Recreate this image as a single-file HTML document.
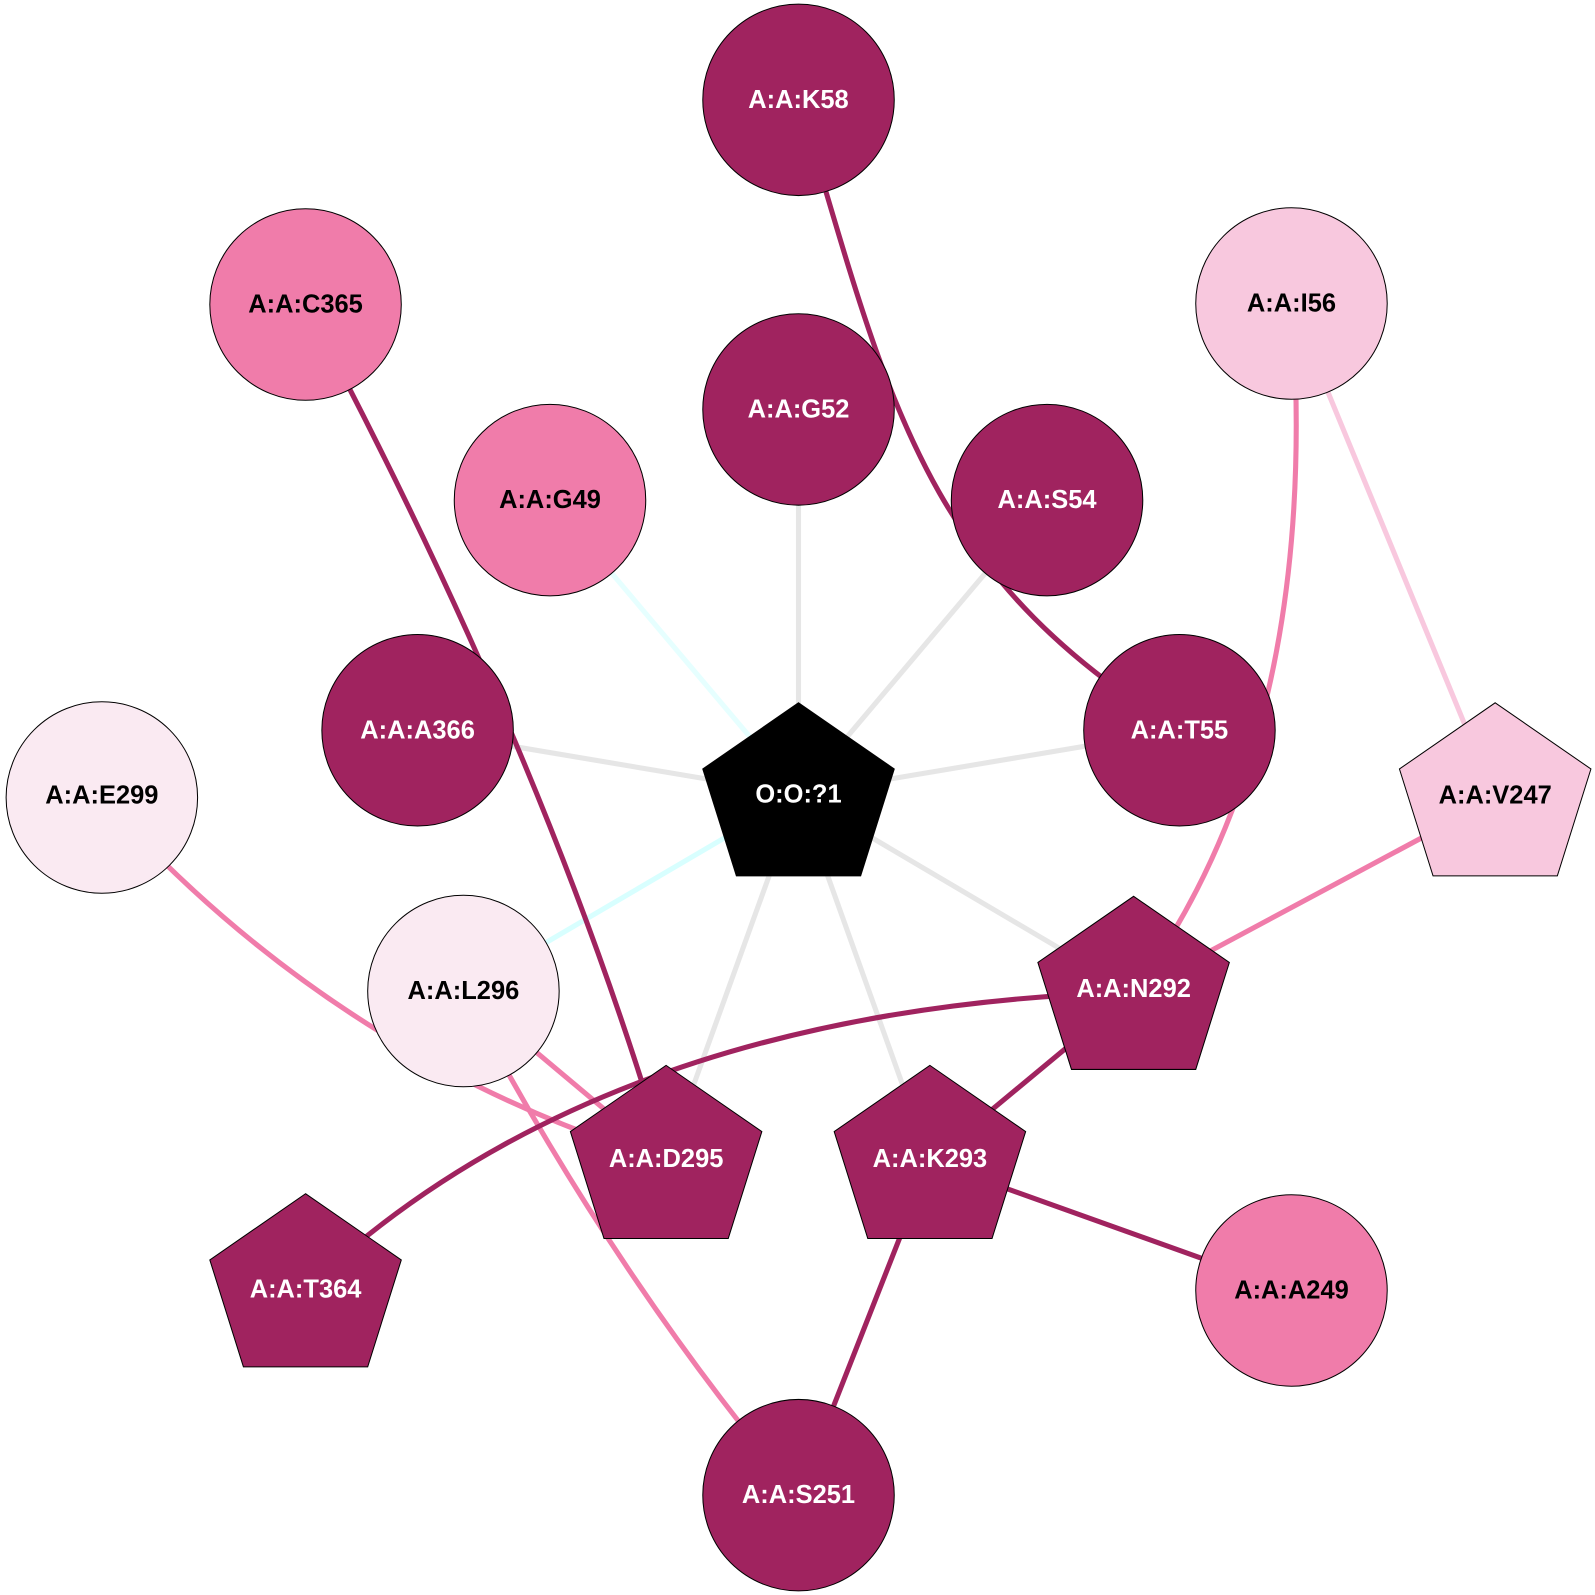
<!DOCTYPE html>
<html><head><meta charset="utf-8"><style>html,body{margin:0;padding:0;background:#fff}svg{display:block}text{font-family:"Liberation Sans",Arial,sans-serif;font-weight:bold;font-size:25px;text-anchor:middle;dominant-baseline:central}</style></head>
<body>
<svg width="1595" height="1595" viewBox="0 0 1566 1566" xmlns="http://www.w3.org/2000/svg">
<defs><polygon id="p" points="0,-94 94,-29 61,76 -61,76 -94,-29"/></defs>
<g fill="none" stroke-width="5">
<path d="M784,402 L784,780" stroke="#e6e6e6"/>
<path d="M1028,491 L784,780" stroke="#e6e6e6"/>
<path d="M410,717 L784,780" stroke="#e6e6e6"/>
<path d="M1158,717 L784,780" stroke="#e6e6e6"/>
<path d="M1113,974 L784,780" stroke="#e6e6e6"/>
<path d="M654,1140 L784,780" stroke="#e6e6e6"/>
<path d="M913,1140 L784,780" stroke="#e6e6e6"/>
<path d="M540,491 L784,780" stroke="#e6ffff"/>
<path d="M455,973 L784,780" stroke="#d8ffff"/>
<path d="M784,98 C870,380 900,560 1158,717" stroke="#a0235f"/>
<path d="M300,299 Q540,750 654,1140" stroke="#a0235f"/>
<path d="M1268,298 Q1300,720 1113,974" stroke="#f07caa"/>
<path d="M1268,298 L1468,784" stroke="#f8c8de"/>
<path d="M1468,784 L1113,974" stroke="#f07caa"/>
<path d="M100,783 Q330,1040 654,1140" stroke="#f07caa"/>
<path d="M455,973 L654,1140" stroke="#f07caa"/>
<path d="M455,973 Q600,1250 784,1468" stroke="#f07caa"/>
<path d="M1113,974 Q590,990 300,1266" stroke="#a0235f"/>
<path d="M1113,974 L913,1140" stroke="#a0235f"/>
<path d="M913,1140 L1268,1267" stroke="#a0235f"/>
<path d="M913,1140 L784,1468" stroke="#a0235f"/>
</g>
<g stroke="#000" stroke-width="1">
<circle cx="784" cy="98" r="94" fill="#a0235f"/>
<circle cx="300" cy="299" r="94" fill="#f07caa"/>
<circle cx="1268" cy="298" r="94" fill="#f8c8de"/>
<circle cx="784" cy="402" r="94" fill="#a0235f"/>
<circle cx="540" cy="491" r="94" fill="#f07caa"/>
<circle cx="1028" cy="491" r="94" fill="#a0235f"/>
<circle cx="410" cy="717" r="94" fill="#a0235f"/>
<circle cx="1158" cy="717" r="94" fill="#a0235f"/>
<circle cx="100" cy="783" r="94" fill="#faeaf2"/>
<circle cx="455" cy="973" r="94" fill="#faeaf2"/>
<circle cx="1268" cy="1267" r="94" fill="#f07caa"/>
<circle cx="784" cy="1468" r="94" fill="#a0235f"/>
<use href="#p" x="784" y="784" fill="#000"/>
<use href="#p" x="1468" y="784" fill="#f8c8de"/>
<use href="#p" x="1113" y="974" fill="#a0235f"/>
<use href="#p" x="654" y="1140" fill="#a0235f"/>
<use href="#p" x="913" y="1140" fill="#a0235f"/>
<use href="#p" x="300" y="1266" fill="#a0235f"/>
</g>
<g fill="#fff">
<text x="784" y="98">A:A:K58</text>
<text x="784" y="402">A:A:G52</text>
<text x="1028" y="491">A:A:S54</text>
<text x="410" y="717">A:A:A366</text>
<text x="1158" y="717">A:A:T55</text>
<text x="784" y="780">O:O:?1</text>
<text x="1113" y="971">A:A:N292</text>
<text x="654" y="1138">A:A:D295</text>
<text x="913" y="1138">A:A:K293</text>
<text x="300" y="1266">A:A:T364</text>
<text x="784" y="1468">A:A:S251</text>
</g>
<g fill="#000">
<text x="300" y="299">A:A:C365</text>
<text x="1268" y="298">A:A:I56</text>
<text x="540" y="491">A:A:G49</text>
<text x="100" y="781">A:A:E299</text>
<text x="1468" y="781">A:A:V247</text>
<text x="455" y="973">A:A:L296</text>
<text x="1268" y="1267">A:A:A249</text>
</g>
</svg>
</body></html>
